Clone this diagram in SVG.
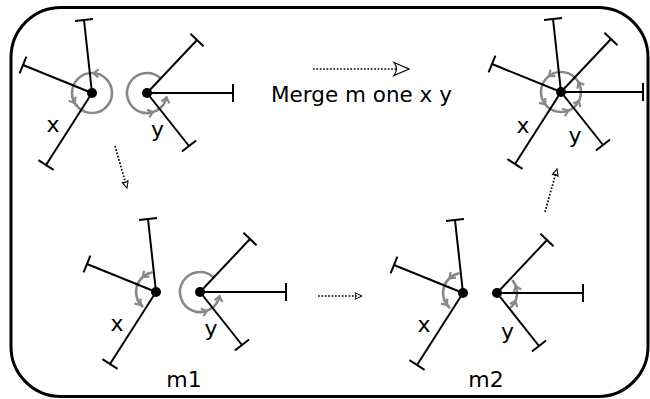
<svg xmlns="http://www.w3.org/2000/svg" xmlns:xlink="http://www.w3.org/1999/xlink" width="650" height="399" viewBox="0 0 650 399">
<style>
.sp{stroke:#000;stroke-width:2;fill:none}
.arc{stroke:#888;stroke-width:2.6;fill:none}
.dot{fill:#000}
.lbl{font-family:"DejaVu Sans","Liberation Sans",sans-serif;font-size:22px;fill:#000;text-anchor:middle}
.ttl{font-family:"DejaVu Sans","Liberation Sans",sans-serif;font-size:21.5px;fill:#000}
.dash{stroke:#000;stroke-width:1.7;stroke-dasharray:1.7 1.7;fill:none}
</style>
<defs>
<path id="ch" d="M-5,-4 L0,0 L-5,4" fill="none" stroke="#888" stroke-width="2.2"/>
<g id="xs" class="sp">
<line x1="0" y1="0" x2="-8" y2="-73"/><line x1="0.95" y1="-73.98" x2="-16.95" y2="-72.02"/>
<line x1="0" y1="0" x2="-69" y2="-28"/><line x1="-65.62" y1="-36.34" x2="-72.38" y2="-19.66"/>
<line x1="0" y1="0" x2="-46" y2="72"/><line x1="-53.58" y1="67.15" x2="-38.42" y2="76.85"/>
</g>
<g id="ys2" class="sp">
<line x1="0" y1="0" x2="50" y2="-53"/><line x1="56.55" y1="-46.82" x2="43.45" y2="-59.18"/>
<line x1="0" y1="0" x2="42" y2="53"/><line x1="34.95" y1="58.59" x2="49.05" y2="47.41"/>
</g>
<g id="ys" class="sp">
<use xlink:href="#ys2"/>
<line x1="0" y1="0" x2="86" y2="0"/><line x1="86" y1="-9" x2="86" y2="9"/>
</g>
<marker id="big" viewBox="-17 -8 18 16" markerWidth="18" markerHeight="16" refX="0" refY="0" markerUnits="userSpaceOnUse" orient="auto">
<path d="M-15,-6.5 L0,0 L-15,6.5 Q-10,0 -15,-6.5 Z" fill="#fff" stroke="#000" stroke-width="1.2" stroke-dasharray="none"/>
</marker>
<marker id="sm" viewBox="-9 -5 10 10" markerWidth="10" markerHeight="10" refX="0" refY="0" markerUnits="userSpaceOnUse" orient="auto">
<path d="M-7,-3.2 L0,0 L-7,3.2 Q-4.5,0 -7,-3.2 Z" fill="#fff" stroke="#000" stroke-width="1" stroke-dasharray="none"/>
</marker>
</defs>
<rect id="frame" x="11" y="7.5" width="637" height="389" rx="50" ry="50" fill="none" stroke="#000" stroke-width="3"/>

<g id="start">
<g id="start-x" transform="translate(92,93)">
<circle class="arc" cx="0" cy="0" r="20"/>
<use xlink:href="#ch" transform="translate(1.40,-19.95) rotate(184)"/>
<use xlink:href="#ch" transform="translate(-17.32,10) rotate(60)"/>
<use xlink:href="#xs"/>
<circle class="dot" cx="0" cy="0" r="5"/>
</g>
<g id="start-y" transform="translate(147,93)">
<path class="arc" d="M13.64,-14.63 A20,20 0 1 0 19.70,3.47"/>
<use xlink:href="#ch" transform="translate(19.49,4.50) rotate(-77)"/>
<use xlink:href="#ch" transform="translate(5.85,19.13) rotate(-17)"/>
<use xlink:href="#ys"/>
<circle class="dot" cx="0" cy="0" r="5"/>
</g>
<text class="lbl" x="53" y="131.5">x</text>
<text class="lbl" x="157.5" y="137">y</text>
</g>

<g id="m1">
<g id="m1-x" transform="translate(156,292)">
<path class="arc" d="M-3.47,-19.70 A20,20 0 0 0 -12.86,15.32"/>
<use xlink:href="#ch" transform="translate(-13.12,-15.09) rotate(139)"/>
<use xlink:href="#ch" transform="translate(-15.32,12.86) rotate(50)"/>
<use xlink:href="#xs"/>
<circle class="dot" cx="0" cy="0" r="5"/>
</g>
<g id="m1-y" transform="translate(200,292)">
<path class="arc" d="M13.64,-14.63 A20,20 0 1 0 19.70,3.47"/>
<use xlink:href="#ch" transform="translate(19.56,4.16) rotate(-78)"/>
<use xlink:href="#ch" transform="translate(6.84,18.79) rotate(-20)"/>
<use xlink:href="#ys"/>
<circle class="dot" cx="0" cy="0" r="5"/>
</g>
<text class="lbl" x="117" y="330.5">x</text>
<text class="lbl" x="211" y="336">y</text>
<text class="lbl" x="184" y="386.5">m1</text>
</g>

<g id="m2">
<g id="m2-x" transform="translate(463,293)">
<path class="arc" d="M-3.47,-19.70 A20,20 0 0 0 -12.86,15.32"/>
<use xlink:href="#ch" transform="translate(-13.38,-14.86) rotate(138)"/>
<use xlink:href="#ch" transform="translate(-15.97,12.04) rotate(53)"/>
<use xlink:href="#xs"/>
<circle class="dot" cx="0" cy="0" r="5"/>
</g>
<g id="m2-y" transform="translate(497,293)">
<path class="arc" d="M13.38,14.86 A20,20 0 0 0 15.32,-12.86"/>
<use xlink:href="#ch" transform="translate(18.79,-6.84) rotate(250)"/>
<use xlink:href="#ch" transform="translate(18.41,7.81) rotate(-67)"/>
<use xlink:href="#ys"/>
<circle class="dot" cx="0" cy="0" r="5"/>
</g>
<text class="lbl" x="424" y="331.5">x</text>
<text class="lbl" x="507.5" y="338.5">y</text>
<text class="lbl" x="486" y="386.5">m2</text>
</g>

<g id="merged">
<g id="merged-xy" transform="translate(561,92)">
<circle class="arc" cx="0" cy="0" r="20"/>
<use xlink:href="#ch" transform="translate(-12.04,-15.97) rotate(143)"/>
<use xlink:href="#ch" transform="translate(-15.76,12.31) rotate(52)"/>
<use xlink:href="#ch" transform="translate(7.17,18.67) rotate(-21)"/>
<use xlink:href="#ch" transform="translate(17.98,8.77) rotate(-64)"/>
<use xlink:href="#ch" transform="translate(17.49,-9.70) rotate(241)"/>
<use xlink:href="#xs"/>
<use xlink:href="#ys2"/>
<g class="sp"><line x1="0" y1="0" x2="82" y2="0"/><line x1="82" y1="-9" x2="82" y2="9"/></g>
<circle class="dot" cx="0" cy="0" r="5"/>
</g>
<text class="lbl" x="523" y="133">x</text>
<text class="lbl" x="575" y="143">y</text>
</g>

<g id="connectors">
<line class="dash" x1="313" y1="69" x2="409" y2="69" marker-end="url(#big)"/>
<line class="dash" x1="115" y1="146" x2="127" y2="188" marker-end="url(#sm)"/>
<line class="dash" x1="318" y1="296" x2="362" y2="296" marker-end="url(#sm)"/>
<line class="dash" x1="545" y1="212" x2="557" y2="169" marker-end="url(#sm)"/>
</g>
<text class="ttl" x="271" y="102">Merge m one x y</text>
</svg>
